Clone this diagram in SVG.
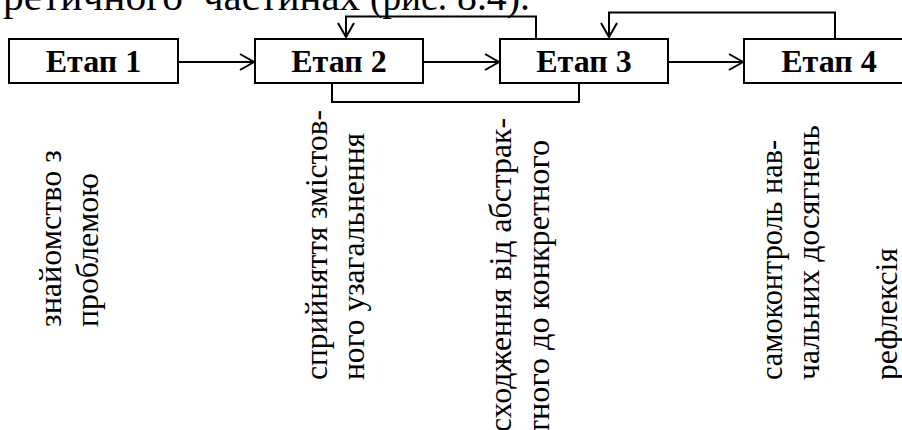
<svg xmlns="http://www.w3.org/2000/svg" width="902" height="430" viewBox="0 0 902 430">
  <style>
    .box { fill: #ffffff; stroke: #000000; stroke-width: 2; }
    .stage { font-family: "Liberation Serif", "Times New Roman", serif; font-weight: bold; font-size: 32px; text-anchor: middle; fill: #000000; }
    .label { font-family: "Liberation Serif", "Times New Roman", serif; font-size: 32px; fill: #000000; }
    .body { font-family: "Liberation Serif", "Times New Roman", serif; font-size: 41px; fill: #000000; }
    .wire { fill: none; stroke: #000000; stroke-width: 2; }
  </style>
  <defs>
    <marker id="open-arrow" viewBox="-16 -10 18 20" refX="0" refY="0" markerWidth="18" markerHeight="20" markerUnits="userSpaceOnUse" orient="auto">
      <path d="M-14,-8 L0,0 L-14,8" fill="none" stroke="#000000" stroke-width="2"/>
    </marker>
  </defs>
  <rect width="902" height="430" fill="#ffffff"/>

  <!-- running text line above the figure -->
  <g id="caption-line" class="body">
    <text x="3" y="10" textLength="180" lengthAdjust="spacingAndGlyphs">ретичного</text>
    <text x="203" y="10" textLength="157" lengthAdjust="spacingAndGlyphs">частинах</text>
    <text x="370" y="10" textLength="77" lengthAdjust="spacingAndGlyphs">(рис.</text>
    <text x="457" y="10" textLength="73" lengthAdjust="spacingAndGlyphs">8.4).</text>
  </g>

  <!-- connectors -->
  <g id="connectors" class="wire">
    <line x1="178" y1="62" x2="254" y2="62" marker-end="url(#open-arrow)"/>
    <line x1="423" y1="62" x2="499" y2="62" marker-end="url(#open-arrow)"/>
    <line x1="668" y1="62" x2="743" y2="62" marker-end="url(#open-arrow)"/>
    <path d="M536,39 V16.5 H346 V37" marker-end="url(#open-arrow)"/>
    <path d="M835,39 V12.5 H609 V37" marker-end="url(#open-arrow)"/>
    <path d="M332,83 V102 H579 V83"/>
  </g>

  <!-- stages -->
  <g id="stage1">
    <rect class="box" x="9" y="39" width="169" height="44"/>
    <text class="stage" x="93.5" y="72">Етап 1</text>
  </g>
  <g id="stage2">
    <rect class="box" x="255" y="39" width="168" height="44"/>
    <text class="stage" x="339" y="72">Етап 2</text>
  </g>
  <g id="stage3">
    <rect class="box" x="500" y="39" width="168" height="44"/>
    <text class="stage" x="584" y="72">Етап 3</text>
  </g>
  <g id="stage4">
    <rect class="box" x="744" y="39" width="170" height="44"/>
    <text class="stage" x="829" y="72">Етап 4</text>
  </g>

  <!-- vertical captions under the stages -->
  <g id="caption1" class="label">
    <text transform="translate(61,327) rotate(-90)" textLength="177" lengthAdjust="spacingAndGlyphs">знайомство з</text>
    <text transform="translate(98,327) rotate(-90)" textLength="154" lengthAdjust="spacingAndGlyphs">проблемою</text>
  </g>
  <g id="caption2" class="label">
    <text transform="translate(327,380) rotate(-90)" textLength="270" lengthAdjust="spacingAndGlyphs">сприйняття змістов-</text>
    <text transform="translate(364,380) rotate(-90)" textLength="247" lengthAdjust="spacingAndGlyphs">ного узагальнення</text>
  </g>
  <g id="caption3" class="label">
    <text transform="translate(511,432) rotate(-90)" textLength="314" lengthAdjust="spacingAndGlyphs">сходження від абстрак-</text>
    <text transform="translate(549,434) rotate(-90)" textLength="294" lengthAdjust="spacingAndGlyphs">тного до конкретного</text>
  </g>
  <g id="caption4" class="label">
    <text transform="translate(782,380) rotate(-90)" textLength="240" lengthAdjust="spacingAndGlyphs">самоконтроль нав-</text>
    <text transform="translate(819,380) rotate(-90)" textLength="255" lengthAdjust="spacingAndGlyphs">чальних досягнень</text>
  </g>
  <g id="caption5" class="label">
    <text transform="translate(897,380) rotate(-90)" textLength="132" lengthAdjust="spacingAndGlyphs">рефлексія</text>
  </g>
</svg>
